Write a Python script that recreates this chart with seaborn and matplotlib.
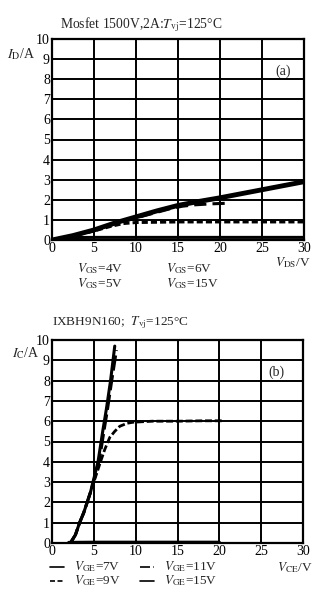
import numpy as np
import pandas as pd
import matplotlib
matplotlib.use("Agg")
import matplotlib.pyplot as plt
import seaborn as sns

# ---------------- data ----------------
# (a) MOSFET output characteristics, I_D vs V_DS
vds_15 = [0, 2.5, 5, 7.5, 10, 12.5, 15, 17.5, 20, 22.5, 25, 27.5, 30]
id_15 = [0, 0.22, 0.5, 0.85, 1.15, 1.45, 1.72, 1.92, 2.1, 2.3, 2.5, 2.7, 2.9]
vds_6 = [0, 2.5, 5, 7.5, 10, 12.5, 14, 15.5, 17, 19, 21]
id_6 = [0, 0.2, 0.47, 0.8, 1.1, 1.38, 1.55, 1.68, 1.75, 1.8, 1.83]
vds_5 = [0, 2.5, 5, 7, 8.5, 10, 15, 20, 25, 30]
id_5 = [0, 0.2, 0.45, 0.68, 0.82, 0.87, 0.9, 0.9, 0.9, 0.9]
vds_4 = [0, 1, 2, 5, 10, 20, 30]
id_4 = [0, 0.08, 0.12, 0.13, 0.13, 0.13, 0.13]

# (b) IGBT output characteristics, I_C vs V_CE
vce_15 = [2.2, 2.8, 3.3, 3.8, 4.2, 4.6, 4.9, 5.2, 5.5, 5.8, 6.1, 6.5, 7.0, 7.5]
ic_15 = [0, 0.4, 1.0, 1.5, 2.0, 2.5, 3.0, 3.5, 4.0, 4.8, 5.6, 6.6, 8.0, 9.7]
vce_11 = [2.2, 2.8, 3.3, 3.8, 4.2, 4.6, 4.95, 5.3, 5.6, 5.9, 6.2, 6.6, 7.1, 7.7]
ic_11 = [0, 0.4, 1.0, 1.5, 2.0, 2.5, 3.0, 3.5, 4.0, 4.7, 5.5, 6.5, 7.9, 9.5]
vce_9 = [2.2, 2.8, 3.3, 3.8, 4.2, 4.6, 5.0, 5.4, 5.8, 6.3, 6.9, 7.5, 8.1, 9.0, 9.7, 12, 15, 18, 20.5]
ic_9 = [0, 0.4, 1.0, 1.5, 2.0, 2.5, 3.0, 3.5, 4.0, 4.6, 5.2, 5.5, 5.75, 5.9, 5.95, 6.0, 6.0, 6.02, 6.02]
vce_7 = [2.0, 5, 10, 15, 20]
ic_7 = [0.03, 0.04, 0.04, 0.04, 0.04]

x_ticks = [0, 5, 10, 15, 20, 25, 30]
y_ticks = [0, 1, 2, 3, 4, 5, 6, 7, 8, 9, 10]

# ---------------- style ----------------
sns.set_theme(style="white")
plt.rcParams["font.family"] = ["Liberation Serif", "DejaVu Serif"]
plt.rcParams["mathtext.fontset"] = "stix"

W, H = 327, 599
fig = plt.figure(figsize=(W / 100, H / 100), dpi=100)


def px_axes(l, t, r, b):
    return fig.add_axes([l / W, 1 - b / H, (r - l) / W, (b - t) / H])


ax1 = px_axes(52, 39, 304, 240)
ax2 = px_axes(52, 340, 303, 543)


def style(ax):
    ax.set_xlim(0, 30)
    ax.set_ylim(0, 10)
    ax.set_xticks(x_ticks)
    ax.set_yticks(y_ticks)
    ax.grid(True, color="black", lw=1.4)
    ax.set_axisbelow(True)
    for s in ax.spines.values():
        s.set_color("black")
        s.set_linewidth(1.6)
    ax.tick_params(length=0, labelsize=10, pad=1.5, colors="black")
    ax.set_xlabel("")
    ax.set_ylabel("")


def draw(ax, xs, ys, **kw):
    df = pd.DataFrame({"x": xs, "y": ys})
    sns.lineplot(data=df, x="x", y="y", ax=ax, estimator=None, sort=False,
                 color="black", **kw)


# (a)
draw(ax1, vds_15, id_15, lw=3.5)
draw(ax1, vds_6, id_6, lw=2.2, linestyle=(0, (4, 2)))
draw(ax1, vds_5, id_5, lw=2.2, linestyle=(0, (2, 1)))
draw(ax1, vds_4, id_4, lw=2.2)
style(ax1)
ax1.text(27.5, 8.4, "(a)", fontsize=10, ha="center", va="center")

# (b)
draw(ax2, vce_15, ic_15, lw=2.2)
draw(ax2, vce_11, ic_11, lw=2.2, linestyle=(0, (5, 1.5)))
draw(ax2, vce_9, ic_9, lw=2.0, linestyle=(0, (2.5, 1)))
draw(ax2, vce_7, ic_7, lw=2.2)
style(ax2)
ax2.text(26.8, 8.4, "(b)", fontsize=10, ha="center", va="center")


def ftext(x, y, s, **kw):
    fig.text(x / W, 1 - y / H, s, va="center", **kw)


FS = 9.5
# titles and axis labels
ftext(60, 25, r"Mosfet 1500V,2A:$T_{\rm vj}$=125°C", fontsize=9.8)
ftext(7, 54, r"$I_{\rm D}$/A", fontsize=10)
ftext(275, 263, r"$V_{\rm DS}$/V", fontsize=FS)
ftext(77, 269, r"$V_{\rm GS}$=4V", fontsize=FS)
ftext(77, 284, r"$V_{\rm GS}$=5V", fontsize=FS)
ftext(166, 269, r"$V_{\rm GS}$=6V", fontsize=FS)
ftext(166, 284, r"$V_{\rm GS}$=15V", fontsize=FS)

ftext(52, 323, r"IXBH9N160;  $T_{\rm vj}$=125°C", fontsize=FS)
ftext(12, 353, r"$I_{\rm C}$/A", fontsize=10)
ftext(277, 568, r"$V_{\rm CE}$/V", fontsize=FS)

# legend of (b) drawn as figure lines + text
legend_rows = [
    (50, 567, "-", r"$V_{\rm GE}$=7V"),
    (50, 581, (0, (3, 1.5)), r"$V_{\rm GE}$=9V"),
    (140, 567, (0, (6, 2, 2, 2)), r"$V_{\rm GE}$=11V"),
    (140, 581, "-", r"$V_{\rm GE}$=15V"),
]
for x0, y0, ls, lab in legend_rows:
    fig.add_artist(plt.Line2D([x0 / W, (x0 + 14) / W], [1 - y0 / H, 1 - y0 / H],
                              color="black", lw=1.2, linestyle=ls,
                              transform=fig.transFigure))
    ftext(x0 + 24, y0, lab, fontsize=FS)

fig.savefig("out.png", dpi=100)
